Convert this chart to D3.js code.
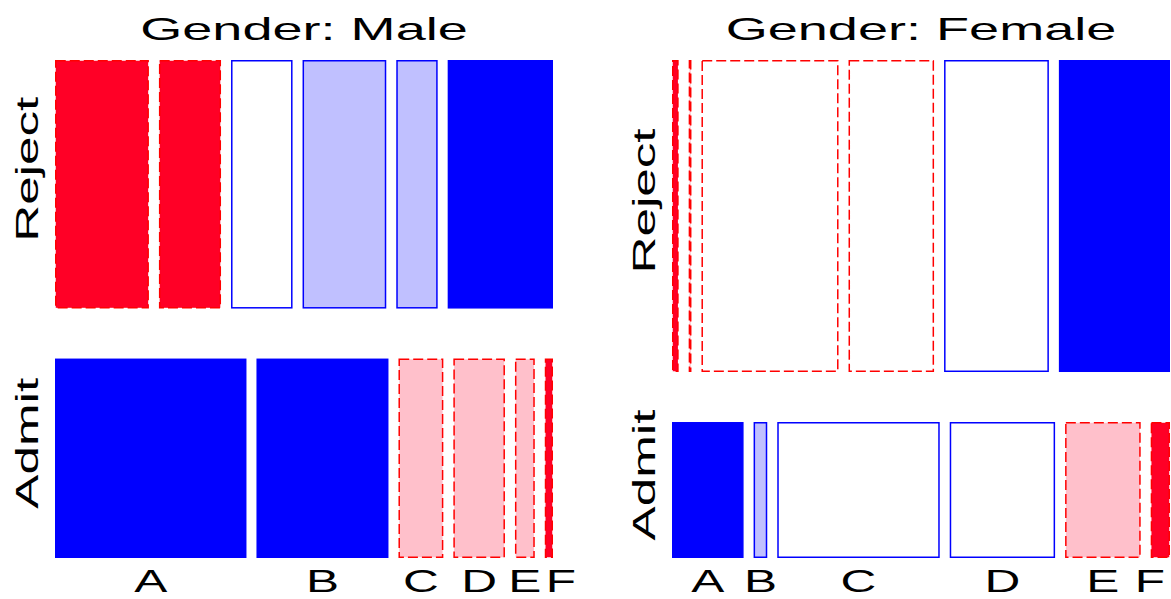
<!DOCTYPE html>
<html>
<head>
<meta charset="utf-8">
<script src="https://cdn.jsdelivr.net/npm/d3@7"></script>
<style>
  html, body { margin: 0; padding: 0; background: #fff; }
  svg { display: block; }
  text { font-family: "Liberation Sans", Arial, sans-serif; fill: #000; }
</style>
</head>
<body>
<svg id="chart" width="1171" height="599"></svg>
<script>
// ---- data (UCB admissions) ----
const genders = ["Male", "Female"];
const depts = ["A", "B", "C", "D", "E", "F"];
const admitLevels = ["Reject", "Admit"];
const maleReject = [313, 207, 205, 279, 138, 351];
const maleAdmit = [512, 353, 120, 138, 53, 22];
const femaleReject = [19, 8, 391, 244, 299, 317];
const femaleAdmit = [89, 17, 202, 131, 94, 24];
// residual shading class: -3 (< -4), -2 (-4..-2), -1 (-2..0), 1 (0..2), 2 (2..4), 3 (> 4)
const maleRejectShade = [-3, -3, 1, 2, 2, 3];
const maleAdmitShade = [3, 3, -2, -2, -2, -3];
const femaleRejectShade = [-3, -2, -1, -1, 1, 3];
const femaleAdmitShade = [3, 2, 1, 1, -2, -3];

const panelsData = [
  { gender: genders[0], rows: [
    { level: admitLevels[0], counts: maleReject, shade: maleRejectShade },
    { level: admitLevels[1], counts: maleAdmit, shade: maleAdmitShade }] },
  { gender: genders[1], rows: [
    { level: admitLevels[0], counts: femaleReject, shade: femaleRejectShade },
    { level: admitLevels[1], counts: femaleAdmit, shade: femaleAdmitShade }] }
];

// ---- layout ----
const panelX = [55, 672];
const panelTop = 60;
const panelSize = 498;
const rowGap = 50;
const colGap = 10;
const sw = 1.5;

const fillOf = s => ({ "-3": "#ff0026", "-2": "#ffc0cb", "-1": "#ffffff", "1": "#ffffff", "2": "#c0c0ff", "3": "#0000ff" })[s];
const strokeOf = s => s < 0 ? "#ff0000" : "#0000ff";

const svg = d3.select("#chart");

panelsData.forEach((p, pi) => {
  const x0 = panelX[pi];
  const g = svg.append("g");
  const rowTotals = p.rows.map(r => d3.sum(r.counts));
  const yScale = d3.scaleLinear().domain([0, d3.sum(rowTotals)]).range([0, panelSize - rowGap]);

  // title
  g.append("text")
    .attr("transform", `translate(${x0 + panelSize / 2},40) scale(1.69,1)`)
    .attr("text-anchor", "middle")
    .attr("font-size", 32)
    .text("Gender: " + p.gender);

  let yCursor = panelTop;
  p.rows.forEach((r, ri) => {
    const h = yScale(rowTotals[ri]);
    const xScale = d3.scaleLinear().domain([0, rowTotals[ri]])
      .range([0, panelSize - colGap * (depts.length - 1)]);
    const cum = d3.cumsum([0].concat(r.counts));
    const cells = r.counts.map((c, i) => ({
      dept: depts[i],
      x: x0 + xScale(cum[i]) + i * colGap,
      w: xScale(c),
      shade: r.shade[i]
    }));

    g.selectAll(null).data(cells).enter().append("rect")
      .attr("x", d => d.x + sw / 2)
      .attr("y", yCursor + sw / 2)
      .attr("width", d => Math.max(0.5, d.w - sw))
      .attr("height", h - sw)
      .attr("fill", d => fillOf(d.shade))
      .attr("stroke", d => strokeOf(d.shade))
      .attr("stroke-width", sw)
      .attr("stroke-dasharray", d => d.shade < 0 ? "10,4" : null);

    // row label (rotated)
    g.append("text")
      .attr("transform", `translate(${x0 - 17},${yCursor + h / 2 - 15}) rotate(-90) scale(1.6,1)`)
      .attr("text-anchor", "middle")
      .attr("font-size", 32)
      .text(r.level);

    // bottom labels under the last row
    if (ri === p.rows.length - 1) {
      const centers = cells.map(d => d.x + d.w / 2);
      for (let i = 1; i < centers.length; i++) {
        if (centers[i] - centers[i - 1] < 36) centers[i] = centers[i - 1] + 36;
      }
      g.selectAll(null).data(cells).enter().append("text")
        .attr("transform", (d, i) => `translate(${Math.min(centers[i], 1150)},592) scale(1.6,1)`)
        .attr("text-anchor", "middle")
        .attr("font-size", 31)
        .text(d => d.dept);
    }
    yCursor += h + rowGap;
  });
});
</script>
</body>
</html>
